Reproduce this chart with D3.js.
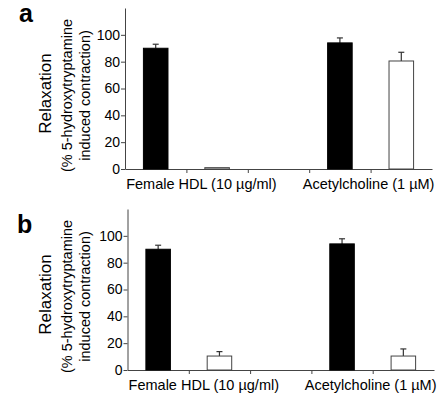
<!DOCTYPE html>
<html>
<head>
<meta charset="utf-8">
<script src="https://cdn.jsdelivr.net/npm/d3@7"></script>
<style>
  html, body { margin: 0; padding: 0; background: #fff; }
  svg { display: block; }
  text { font-family: "Liberation Sans", Arial, sans-serif; fill: #000; }
</style>
</head>
<body>
<svg id="chart" width="442" height="401"></svg>
<script>
// ---- data ----
const groups = ["Female HDL (10 \u00b5g/ml)", "Acetylcholine (1 \u00b5M)"];
const series = ["control", "treated"];
const panelLetters = ["a", "b"];
// slot order: Female control, Female treated, (gap), Acetylcholine control, Acetylcholine treated
const panelAValues = [90, 1, 94, 80.5];
const panelAErrors = [3, 0, 3.7, 6.5];
const panelBValues = [90, 10.4, 94, 10.4];
const panelBErrors = [3, 3.3, 3.8, 5.3];
const yTicks = [0, 20, 40, 60, 80, 100];
const yMax = 120;
const yTitle = "Relaxation";
const ySub1 = "(% 5-hydroxytryptamine";
const ySub2 = "induced contraction)";

const svg = d3.select("#chart");

function drawPanel(letter, values, errors, L) {
  const g = svg.append("g");
  const y = d3.scaleLinear().domain([0, yMax]).range([L.y0, L.yTop]);
  const slot = d3.scaleLinear().domain([0, 5]).range([L.x0, L.x1]);
  const band = d3.scaleBand().domain(d3.range(5)).range([L.x0, L.x1]).padding(0);
  const slotOf = [0, 1, 3, 4];
  const barW = band.bandwidth() * 0.4;
  const axisColor = "#444";

  // y axis
  const ya = g.append("g").attr("transform", `translate(${L.x0},0)`)
    .call(d3.axisLeft(y).tickValues(yTicks).tickSize(4).tickSizeOuter(0).tickPadding(1));
  ya.select(".domain").attr("stroke", axisColor);
  ya.selectAll(".tick line").attr("stroke", axisColor);
  ya.selectAll(".tick text").attr("font-size", 14).attr("font-family", "Liberation Sans, Arial, sans-serif").attr("fill", "#000");

  // x axis
  const xa = g.append("g").attr("transform", `translate(0,${L.y0})`)
    .call(d3.axisBottom(slot).tickValues([1, 2, 3, 4]).tickFormat("").tickSize(4).tickSizeOuter(0));
  xa.select(".domain").attr("stroke", axisColor);
  xa.selectAll(".tick line").attr("stroke", axisColor);

  // bars
  const data = values.map((v, i) => ({ v, e: errors[i], s: slotOf[i], filled: i % 2 === 0 }));
  // error bars
  const eg = g.append("g");
  data.filter(d => d.e > 0).forEach(d => {
    const cx = band(d.s) + band.bandwidth() / 2;
    eg.append("line").attr("x1", cx).attr("x2", cx)
      .attr("y1", y(d.v)).attr("y2", y(d.v + d.e)).attr("stroke", "#333").attr("stroke-width", 1.2);
    eg.append("line").attr("x1", cx - 3).attr("x2", cx + 3)
      .attr("y1", y(d.v + d.e)).attr("y2", y(d.v + d.e)).attr("stroke", "#333").attr("stroke-width", 1.2);
  });
  g.append("g").selectAll("rect").data(data).join("rect")
    .attr("x", d => band(d.s) + (band.bandwidth() - barW) / 2)
    .attr("width", barW)
    .attr("y", d => y(d.v))
    .attr("height", d => Math.max(0, y(0) - y(d.v)))
    .attr("fill", d => d.filled ? "#000" : "#fff")
    .attr("stroke", d => d.filled ? "#000" : "#444")
    .attr("stroke-width", 1);

  // group labels
  const labelPos = [slot(1) + 15, slot(4) - 2];
  groups.forEach((name, i) => {
    g.append("text").attr("x", labelPos[i]).attr("y", L.y0 + 20)
      .attr("text-anchor", "middle").attr("font-size", 14.5).text(name);
  });

  // y titles
  const cy = (L.y0 + L.yTop) / 2 + 5;
  g.append("text").attr("transform", `translate(${51},${cy}) rotate(-90)`)
    .attr("text-anchor", "middle").attr("font-size", 17).text(yTitle);
  g.append("text").attr("transform", `translate(${72},${cy + 2}) rotate(-90)`)
    .attr("text-anchor", "middle").attr("font-size", 14.5).text(ySub1);
  g.append("text").attr("transform", `translate(${90},${cy + 2}) rotate(-90)`)
    .attr("text-anchor", "middle").attr("font-size", 14.5).text(ySub2);

  // panel letter
  g.append("text").attr("x", L.letterX).attr("y", L.letterY)
    .attr("font-family", "DejaVu Sans, sans-serif").attr("font-weight", "bold")
    .attr("font-size", 25).text(letter);
}

drawPanel(panelLetters[0], panelAValues, panelAErrors,
  { x0: 125, x1: 432, y0: 169, yTop: 8, letterX: 19, letterY: 22 });
drawPanel(panelLetters[1], panelBValues, panelBErrors,
  { x0: 127.5, x1: 434, y0: 370, yTop: 209, letterX: 17, letterY: 233 });
</script>
</body>
</html>
